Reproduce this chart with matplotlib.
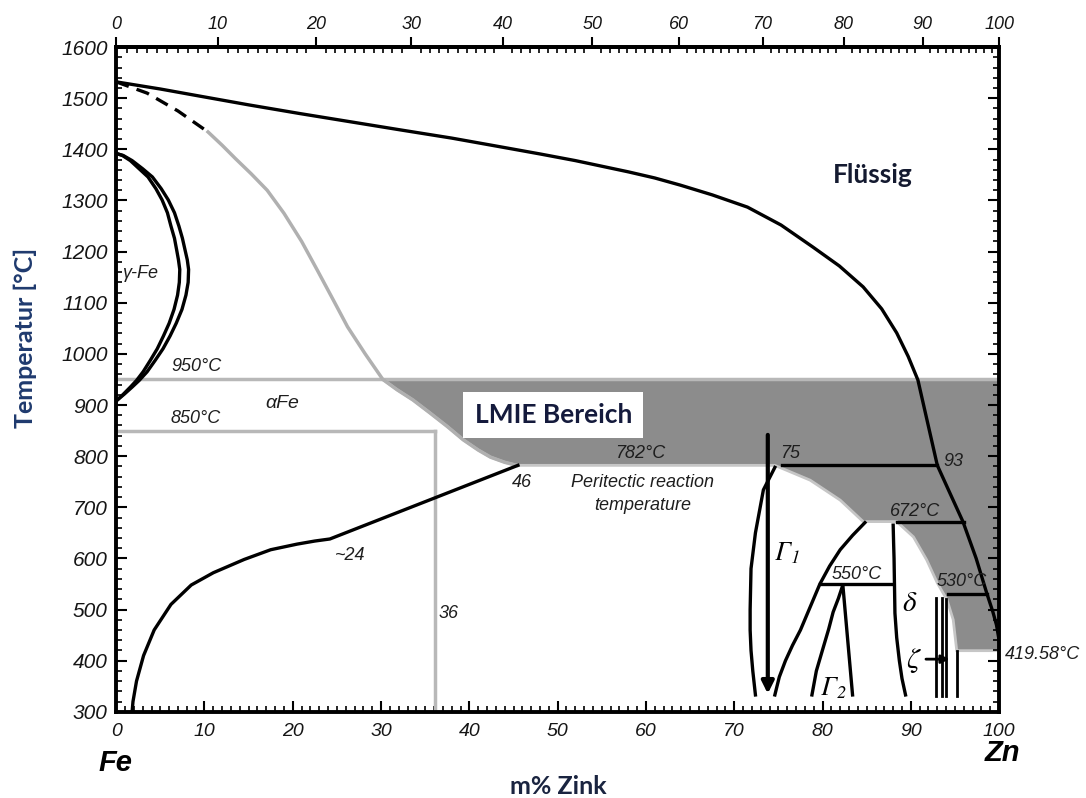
import numpy as np
import matplotlib.pyplot as plt
from matplotlib.ticker import MultipleLocator

plt.rcParams['font.family'] = ['Liberation Sans', 'DejaVu Sans']
plt.rcParams['font.style'] = 'italic'
plt.rcParams['mathtext.fontset'] = 'stix'

# --- phase boundaries, m% Zn vs. temperature ---
liq_x = [0, 5, 9.5, 15, 20.8, 26.5, 32.2, 38, 43.5, 48, 52, 55, 58, 61, 63.9, 67.5, 71.5, 75.3,
         78.9, 81.9, 84.6, 86.7, 88.4, 89.7, 90.8, 93.0, 94.5, 95.9, 97.4, 98.6, 99.3, 99.7, 100]
liq_T = [1532, 1518, 1504, 1487, 1470, 1454, 1438, 1422, 1405, 1391, 1378, 1367, 1356, 1344, 1330,
         1311, 1287, 1252, 1209, 1172, 1131, 1088, 1041, 995, 949, 782, 725, 672, 600, 532, 495, 470, 440]

dash_x = [0, 3.5, 7, 10.4]
dash_T = [1532, 1510, 1475, 1434]

sol_x = [10.4, 12, 13.5, 15.3, 17.1, 19, 21, 22.8, 24.6, 26.2, 28.2, 30.2, 31.8, 33.6, 35.5,
         37.5, 39.3, 41, 42.4, 44, 45.4]
sol_T = [1434, 1408, 1382, 1352, 1320, 1275, 1220, 1163, 1105, 1053, 1000, 950, 930, 910, 885,
         858, 832, 812, 798, 788, 782]

gam_out_x = [0, 0.8, 1.8, 3, 4.1, 5.1, 5.9, 6.6, 7.1, 7.5, 7.8, 8.05, 8.2, 8.15, 7.9, 7.45, 6.8,
             6.1, 5.3, 4.4, 3.5, 2.6, 1.8, 0.9, 0]
gam_out_T = [1392, 1388, 1378, 1362, 1346, 1323, 1301, 1276, 1250, 1226, 1203, 1184, 1165, 1140,
             1115, 1087, 1060, 1035, 1010, 987, 965, 948, 935, 921, 908]
gam_in_x = [0, 0.7, 1.6, 2.6, 3.6, 4.5, 5.2, 5.8, 6.2, 6.6, 6.85, 7.05, 7.2, 7.15, 6.95, 6.55, 6.0,
            5.35, 4.65, 3.85, 3.05, 2.3, 1.6, 0.8, 0]
gam_in_T = gam_out_T

alpha_x = [1.8, 1.9, 2.3, 3.1, 4.3, 6.2, 8.5, 11, 14.5, 17.5, 20.5, 22.5, 24.2, 45.5]
alpha_T = [300, 320, 360, 410, 460, 510, 548, 572, 598, 617, 628, 634, 638, 782]

g1l_x = [72.4, 72.1, 71.9, 71.8, 71.8, 71.9, 72.4, 73.3, 74.6]
g1l_T = [333, 380, 420, 460, 500, 580, 650, 734, 778]
g1r_x = [74.6, 75.1, 75.8, 76.6, 77.5, 78.6, 79.7, 80.8, 82, 83.4, 84.8]
g1r_T = [333, 368, 400, 430, 460, 505, 550, 585, 617, 645, 670]
g2l_x = [78.8, 79.3, 80.1, 80.7, 81.2, 81.8, 82.3]
g2l_T = [333, 380, 427, 462, 495, 522, 548]
g2r_x = [82.3, 83.4]
g2r_T = [548, 333]
dl_x = [88.0, 88.05, 88.1, 88.2, 88.4, 88.7, 89.0, 89.4]
dl_T = [665, 630, 600, 493, 445, 400, 365, 333]

zeta_x = [92.9, 93.5, 94.0, 95.2]
zeta_top = [523, 523, 521, 419]
zeta_bot = 330

# isotherms (black): T, x from, x to
iso_T = [782, 672, 550, 530]
iso_x0 = [75.4, 88.4, 79.7, 94.2]
iso_x1 = [93.0, 96.0, 87.9, 98.6]

# grey helper lines
grey_h_T = [950, 850]
grey_h_x1 = [100, 36.1]
grey_v_x = 36.1
grey_v_T = [300, 850]

# LMIE region outline
lmie_x = [30.2, 100, 100, 95.2, 94.8, 94.1, 93.0, 91.8, 90.3, 88.4, 84.6, 82.0, 78.6, 74.6,
          45.4, 44, 42.4, 41, 39.3, 37.5, 35.5, 33.6, 31.8, 30.2]
lmie_T = [950, 950, 419.58, 419.58, 480, 519, 552, 597, 642, 672, 672, 714, 753, 782,
          782, 788, 798, 812, 832, 858, 885, 910, 930, 950]

arrow_x = 73.8
arrow_T = [847, 330]
zarrow_x = [91.4, 94.7]
zarrow_T = 403

M_ZN, M_FE = 65.38, 55.85


def wt_to_at(w):
    w = np.clip(np.asarray(w, dtype=float), 0, 100)
    nz = w / M_ZN
    nf = (100 - w) / M_FE
    return 100 * nz / (nz + nf)


def at_to_wt(a):
    a = np.clip(np.asarray(a, dtype=float), 0, 100)
    mz = a * M_ZN
    mf = (100 - a) * M_FE
    return 100 * mz / (mz + mf)


fig = plt.figure(figsize=(10.86, 7.98), dpi=100)
ax = fig.add_axes([0.107, 0.108, 0.813, 0.833])

ax.fill(lmie_x, lmie_T, facecolor='#8c8c8c', edgecolor='#c6c6c6', lw=2, zorder=1)

grey = '#b8b8b8'
for T, x1 in zip(grey_h_T, grey_h_x1):
    ax.plot([0, x1], [T, T], color=grey, lw=2.5, zorder=2)
ax.plot([grey_v_x, grey_v_x], grey_v_T, color=grey, lw=2.5, zorder=2)
ax.plot(sol_x, sol_T, color='#b0b0b0', lw=2.5, zorder=2)

lw = 2.4
ax.plot(liq_x, liq_T, 'k', lw=lw, zorder=3)
ax.plot(dash_x, dash_T, 'k', lw=lw, dashes=(4, 2.5), zorder=3)
ax.plot(gam_out_x, gam_out_T, 'k', lw=lw, zorder=3)
ax.plot(gam_in_x, gam_in_T, 'k', lw=lw, zorder=3)
ax.plot(alpha_x, alpha_T, 'k', lw=lw, zorder=3)
for xs, Ts in [(g1l_x, g1l_T), (g1r_x, g1r_T), (g2l_x, g2l_T), (g2r_x, g2r_T), (dl_x, dl_T)]:
    ax.plot(xs, Ts, 'k', lw=lw, zorder=3)
for T, x0, x1 in zip(iso_T, iso_x0, iso_x1):
    ax.plot([x0, x1], [T, T], 'k', lw=lw, zorder=3)
for x, top in zip(zeta_x, zeta_top):
    ax.plot([x, x], [zeta_bot, top], 'k', lw=2, zorder=3)

ax.annotate('', xy=(arrow_x, arrow_T[1]), xytext=(arrow_x, arrow_T[0]),
            arrowprops=dict(arrowstyle='-|>', lw=3, color='k', mutation_scale=18), zorder=4)
ax.annotate('', xy=(zarrow_x[1], zarrow_T), xytext=(zarrow_x[0], zarrow_T),
            arrowprops=dict(arrowstyle='-|>', lw=2, color='k', mutation_scale=12), zorder=4)

# labels in the diagram
txt = '#1e1e1e'
lab = dict(fontsize=13, color=txt, ha='center', va='center', zorder=5)
ax.text(9.05, 976, '950°C', **lab)
ax.text(9.05, 873, '850°C', **lab)
ax.text(18.8, 903, 'αFe', fontsize=14, color=txt, ha='center', va='center')
ax.text(0.7, 1158, 'γ-Fe', fontsize=13, color=txt, ha='left', va='center')
ax.text(26.5, 605, '~24', **lab)
ax.text(46, 748, '46', **lab)
ax.text(37.6, 493, '36', **lab)
ax.text(59.3, 805, '782°C', **lab)
ax.text(59.6, 748, 'Peritectic reaction', **lab)
ax.text(59.6, 703, 'temperature', **lab)
ax.text(76.3, 806, '75', **lab)
ax.text(94.8, 789, '93', **lab)
ax.text(90.5, 691, '672°C', **lab)
ax.text(83.9, 568, '550°C', **lab)
ax.text(95.8, 554, '530°C', **lab)
ax.text(100.7, 413, '419.58°C', fontsize=13, color=txt, ha='left', va='center')

ax.text(76, 611, r'$\mathit{\Gamma}_1$', fontsize=19, ha='center', va='center')
ax.text(81.2, 347, r'$\mathit{\Gamma}_2$', fontsize=19, ha='center', va='center')
ax.text(89.9, 513, r'$\delta$', fontsize=21, ha='center', va='center')
ax.text(90.3, 401, r'$\zeta$', fontsize=21, ha='center', va='center')

ax.text(85.7, 1350, 'Flüssig', family='Lato', style='normal', weight='bold', fontsize=19,
        color='#141a30', ha='center', va='center')
ax.text(49.5, 880, 'LMIE Bereich', family='Lato', style='normal', weight='bold', fontsize=19,
        color='#141a3c', ha='center', va='center', zorder=6,
        bbox=dict(boxstyle='square,pad=0.42', facecolor='white', edgecolor='none'))

# axes
ax.set_xlim(0, 100)
ax.set_ylim(300, 1600)
ax.xaxis.set_major_locator(MultipleLocator(10))
ax.xaxis.set_minor_locator(MultipleLocator(1))
ax.yaxis.set_major_locator(MultipleLocator(100))
ax.yaxis.set_minor_locator(MultipleLocator(20))
ax.tick_params(which='both', direction='in', top=False, right=True, width=1.5, colors='k')
ax.tick_params(which='major', length=8)
ax.tick_params(which='minor', length=4, width=1.2)
ax.tick_params(axis='x', labelsize=14, pad=8, labelcolor='#151515')
ax.tick_params(axis='y', labelsize=15, pad=6, labelcolor='#151515')
for s in ax.spines.values():
    s.set_linewidth(2.8)

secax = ax.secondary_xaxis('top', functions=(wt_to_at, at_to_wt))
secax.set_xticks(np.arange(0, 101, 10))
secax.xaxis.set_minor_locator(MultipleLocator(1))
secax.tick_params(which='major', direction='out', length=7, width=1.5, labelsize=13, pad=3,
                  labelcolor='#151515')
secax.tick_params(which='minor', direction='in', length=4, width=1.2)
secax.spines['top'].set_linewidth(2.8)

fig.text(0.106, 0.044, 'Fe', fontsize=21, weight='bold', ha='center', va='center')
fig.text(0.923, 0.056, 'Zn', fontsize=21, weight='bold', ha='center', va='center')
fig.text(0.514, 0.014, 'm% Zink', family='Lato', style='normal', weight='bold', fontsize=18,
         color='#1a2440', ha='center', va='center')
fig.text(0.023, 0.576, 'Temperatur [°C]', family='Lato', style='normal', weight='bold',
         fontsize=18, color='#1f3a6e', rotation=90, ha='center', va='center')

fig.savefig('out.png', dpi=100)
